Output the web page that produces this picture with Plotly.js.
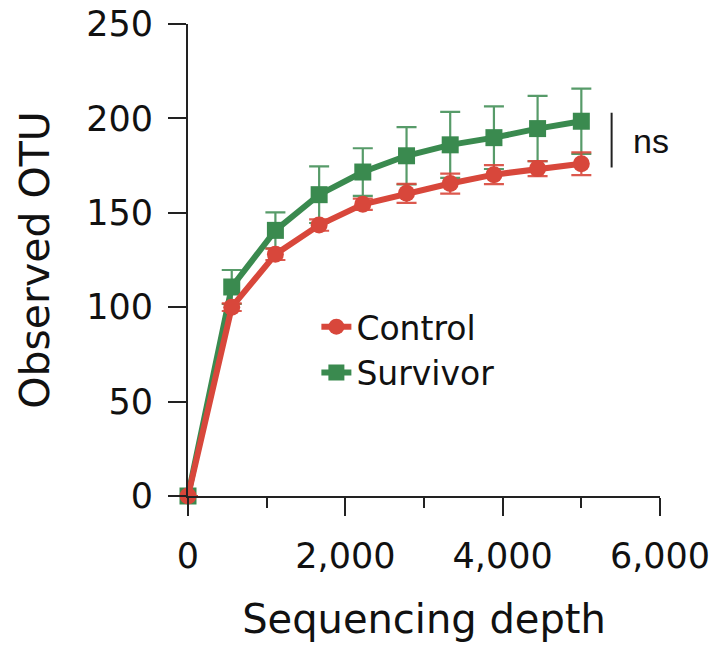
<!DOCTYPE html>
<html>
<head>
<meta charset="utf-8">
<script src="https://cdn.plot.ly/plotly-3.0.1.min.js"></script>
<style>
html,body{margin:0;padding:0;background:#fff;}
#chart{width:716px;height:645px;}
</style>
</head>
<body>
<div id="chart"></div>
<script>
// Data
const depth = [0, 556, 1111, 1667, 2222, 2778, 3333, 3889, 4444, 5000];
const controlOTU = [0, 100, 128, 143.5, 154.5, 160.3, 165.5, 170.2, 173.4, 176];
const controlErr = [0, 2, 3, 3, 3, 5, 5.3, 5, 4, 6];
const survivorOTU = [0, 110.7, 140.7, 159.6, 171.6, 180.2, 186, 189.8, 194.6, 198.5];
const survivorErr = [0, 9, 9.5, 15, 12.6, 15.2, 17.5, 16.6, 17.3, 17.3];
const seriesNames = ['Control', 'Survivor'];
const xTickVals = [0, 2000, 4000, 6000];
const xTickText = ['0', '2,000', '4,000', '6,000'];
const yTickVals = [0, 50, 100, 150, 200, 250];
const sigLabel = 'ns';

const RED = '#d8473b';
const GREEN = '#3a8a4f';
const FONT = 'DejaVu Sans, Liberation Sans, sans-serif';

const survivor = {
  x: depth, y: survivorOTU, name: seriesNames[1], type: 'scatter', mode: 'lines+markers',
  line: {color: GREEN, width: 6},
  marker: {color: GREEN, symbol: 'square', size: 17},
  error_y: {type: 'data', array: survivorErr, visible: true, color: 'rgba(58,138,79,0.85)', thickness: 2.2, width: 10},
  cliponaxis: false
};
const control = {
  x: depth, y: controlOTU, name: seriesNames[0], type: 'scatter', mode: 'lines+markers',
  line: {color: RED, width: 6},
  marker: {color: RED, symbol: 'circle', size: 17},
  error_y: {type: 'data', array: controlErr, visible: true, color: 'rgba(216,71,59,0.9)', thickness: 2.2, width: 10},
  cliponaxis: false
};

const layout = {
  width: 716, height: 645,
  margin: {l: 188, r: 56, t: 24, b: 149},
  paper_bgcolor: '#fff', plot_bgcolor: '#fff',
  font: {family: FONT, color: '#111'},
  showlegend: true,
  legend: {
    x: 0.272, y: 0.418, xanchor: 'left', yanchor: 'top',
    font: {family: FONT, size: 33, color: '#111'},
    bgcolor: 'rgba(0,0,0,0)', traceorder: 'reversed',
    tracegroupgap: 0
  },
  xaxis: {
    range: [0, 6000], tickvals: xTickVals, ticktext: xTickText,
    showgrid: false, zeroline: false, showline: true, linecolor: '#222', linewidth: 2,
    ticks: 'outside', ticklen: 18, tickwidth: 2, tickcolor: '#222',
    minor: {dtick: 1000, ticks: 'outside', ticklen: 10, tickwidth: 2, tickcolor: '#222', showgrid: false},
    tickfont: {family: FONT, size: 35, color: '#111'},
    ticklabelstandoff: 10,
    title: {text: 'Sequencing depth', font: {family: FONT, size: 40, color: '#111'}, standoff: 30},
    automargin: false
  },
  yaxis: {
    range: [0, 250], tickvals: yTickVals,
    showgrid: false, zeroline: false, showline: true, linecolor: '#222', linewidth: 2,
    ticks: 'outside', ticklen: 18, tickwidth: 2, tickcolor: '#222',
    tickfont: {family: FONT, size: 35, color: '#111'},
    ticklabelstandoff: 8,
    title: {text: 'Observed OTU', font: {family: FONT, size: 41, color: '#111'}, standoff: 24},
    automargin: false
  },
  shapes: [{
    type: 'line', xref: 'x', yref: 'y', x0: 5385, x1: 5385, y0: 174, y1: 203,
    line: {color: '#222', width: 2}
  }],
  annotations: [{
    x: 5630, y: 188, xref: 'x', yref: 'y', text: sigLabel, showarrow: false,
    xanchor: 'left', yanchor: 'middle',
    font: {family: 'Liberation Sans, Arial, sans-serif', size: 34, color: '#111'}
  }]
};

Plotly.newPlot('chart', [survivor, control], layout, {staticPlot: true, displayModeBar: false});
</script>
</body>
</html>
